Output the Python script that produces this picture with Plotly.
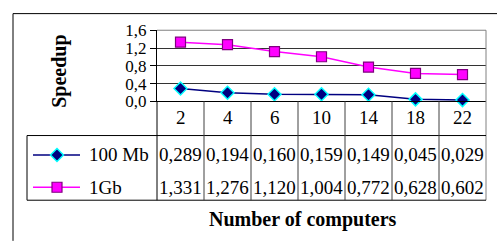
import plotly.graph_objects as go

W, H = 497, 249

categories = ["2", "4", "6", "10", "14", "18", "22"]
series_names = ["100 Mb", "1Gb"]
speedup_100mb = [0.289, 0.194, 0.160, 0.159, 0.149, 0.045, 0.029]
speedup_1gb = [1.331, 1.276, 1.120, 1.004, 0.772, 0.628, 0.602]
y_ticks = [0.0, 0.4, 0.8, 1.2, 1.6]

FONT = "Liberation Serif, Times New Roman, serif"

def px(x):
    return x / W

def py(y):
    return (H - y) / H

# layout geometry (pixels)
PL, PR, PT, PB = 157, 486, 23, 100
ROW_TOP, ROW_BOT = 137, 207
LEG_L = 27
row_y = [158, 193]
cat_y = 118
col_w = (PR - PL) / len(categories)

styles = [
    dict(line=dict(color="#000080", width=1.5),
         marker=dict(symbol="diamond", size=10, color="#000080",
                     line=dict(color="#00FFFF", width=1.5))),
    dict(line=dict(color="#FF00FF", width=1.5),
         marker=dict(symbol="square", size=10, color="#FF00FF",
                     line=dict(color="#800080", width=1.2))),
]
values = [speedup_100mb, speedup_1gb]

fig = go.Figure()
for name, vals, st in zip(series_names, values, styles):
    fig.add_trace(go.Scatter(x=categories, y=vals, mode="lines+markers",
                             name=name, showlegend=False, cliponaxis=False, **st))

# legend keys drawn on a full-page pixel axis pair
for i, st in enumerate(styles):
    fig.add_trace(go.Scatter(x=[33, 80], y=[row_y[i], row_y[i]], mode="lines",
                             line=st["line"], xaxis="x2", yaxis="y2",
                             showlegend=False, hoverinfo="skip"))
    fig.add_trace(go.Scatter(x=[57], y=[row_y[i]], mode="markers",
                             marker=st["marker"], xaxis="x2", yaxis="y2",
                             showlegend=False, hoverinfo="skip"))

shapes = []
def line(x0, y0, x1, y1, color="black", width=1):
    shapes.append(dict(type="line", xref="paper", yref="paper",
                       x0=px(x0), y0=py(y0), x1=px(x1), y1=py(y1),
                       line=dict(color=color, width=width)))

# outer chart frame
line(13, 5, W + 2, 5)
line(13, 5, 13, H + 2)
# plot area grey border (top, right)
line(PL, PT, PR, PT, "#808080")
line(PR, PT, PR, ROW_BOT, "#808080")
# table
line(LEG_L, ROW_TOP, PR, ROW_TOP)
line(LEG_L, ROW_BOT, PR, ROW_BOT)
line(LEG_L, ROW_TOP, LEG_L, ROW_BOT)
line(PL, PB, PL, ROW_BOT)
for k in range(1, len(categories)):
    xx = PL + k * col_w
    line(xx, PB, xx, ROW_BOT, "#404040")

def ann(x, y, text, size=19, xanchor="center", **kw):
    return dict(x=px(x), y=py(y), xref="paper", yref="paper", text=text,
                showarrow=False, xanchor=xanchor, yanchor="middle",
                font=dict(size=size, color="black", family=FONT), **kw)

annotations = []
for k, c in enumerate(categories):
    cx = PL + (k + 0.5) * col_w
    annotations.append(ann(cx, cat_y, c))
    for i, vals in enumerate(values):
        annotations.append(ann(cx, row_y[i], f"{vals[k]:.3f}".replace(".", ",")))
for i, n in enumerate(series_names):
    annotations.append(ann(87, row_y[i], n, xanchor="left"))
annotations.append(ann(60, 68, "<b>Speedup</b>", size=20, textangle=-90))
annotations.append(ann(303, 228, "<b>Number of computers</b>", size=20))

fig.update_layout(
    width=W, height=H, autosize=False,
    margin=dict(l=0, r=0, t=0, b=0),
    paper_bgcolor="white", plot_bgcolor="rgba(0,0,0,0)",
    separators=", ",
    font=dict(family=FONT, size=19, color="black"),
    xaxis=dict(domain=[px(PL), px(PR)], type="category",
               range=[-0.5, len(categories) - 0.5],
               showticklabels=False, showgrid=False, zeroline=False,
               showline=True, linecolor="black", linewidth=1, ticks=""),
    yaxis=dict(domain=[py(PB), py(PT)], range=[0, 1.6], tickvals=y_ticks,
               tickformat=".1f", ticks="outside", ticklen=6, tickcolor="black",
               showline=True, linecolor="black", linewidth=1,
               showgrid=True, gridcolor="#333333", gridwidth=1, zeroline=False,
               tickfont=dict(size=17, family=FONT, color="black")),
    xaxis2=dict(domain=[0, 1], range=[0, W], visible=False, fixedrange=True,
                anchor="y2"),
    yaxis2=dict(domain=[0, 1], range=[H, 0], visible=False, fixedrange=True,
                anchor="x2"),
    shapes=shapes,
    annotations=annotations,
)

fig.write_html("out.html", config={"displayModeBar": False},
               post_script="document.body.style.margin='0';"
                           "document.body.style.overflow='hidden';")
